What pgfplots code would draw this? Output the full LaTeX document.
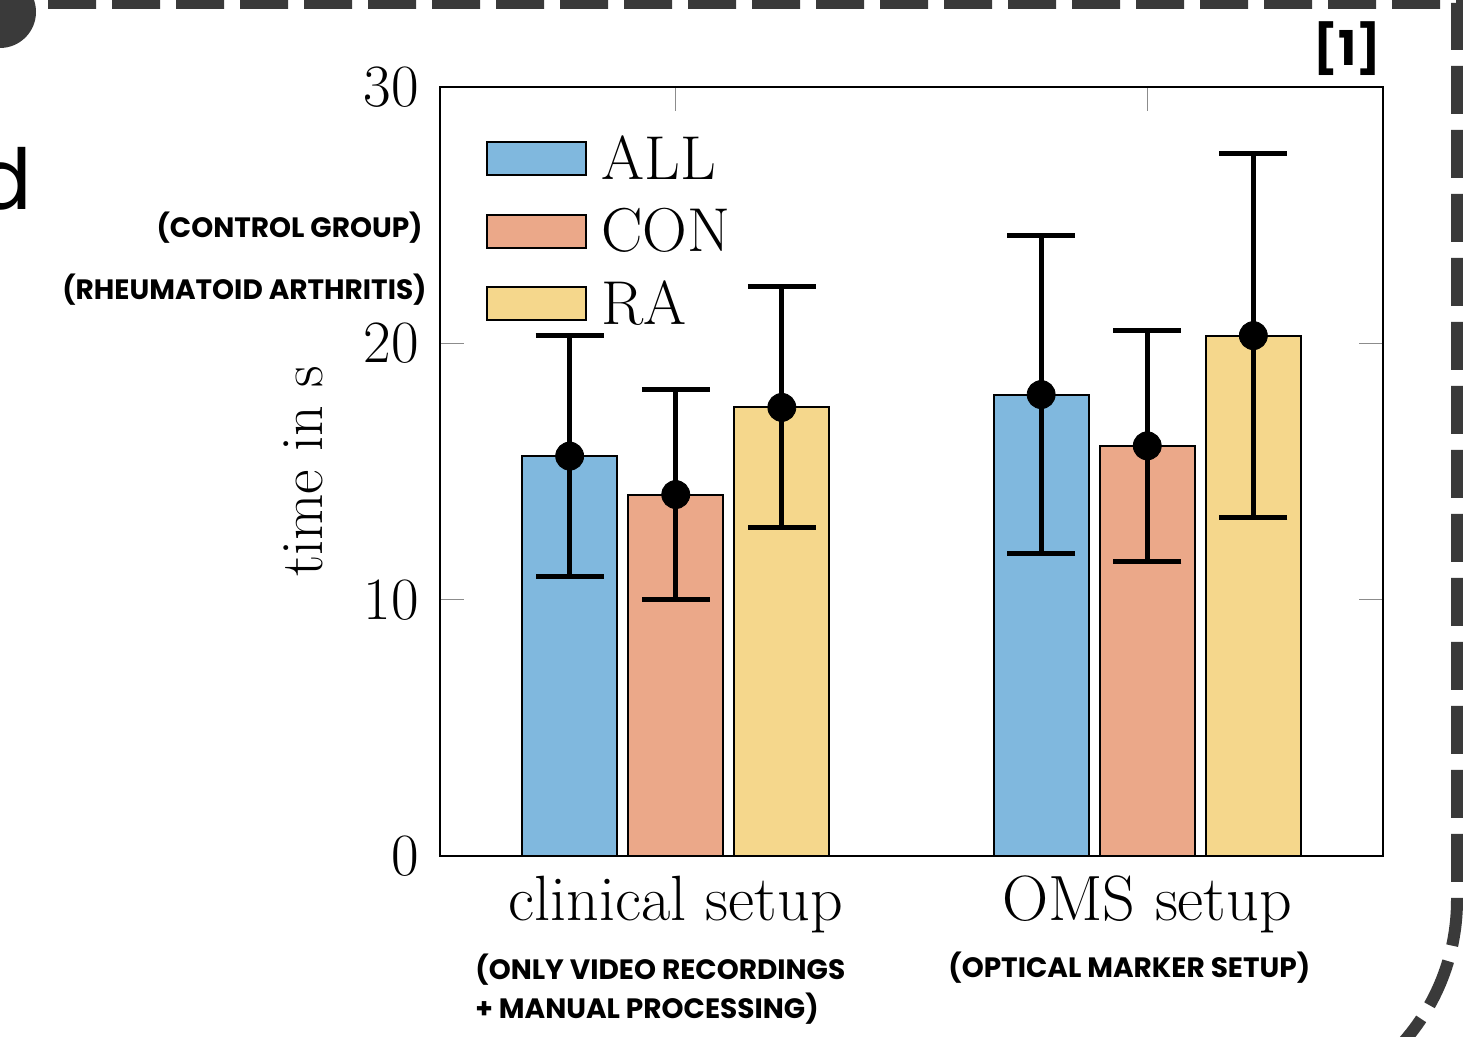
\documentclass[border=0pt]{standalone}
\usepackage{pgfplots}
\pgfplotsset{compat=1.18}
\usepackage{fontspec}
\newfontfamily\pop{Poppins}
\definecolor{cAll}{HTML}{80B8DE}
\definecolor{cCon}{HTML}{EBA889}
\definecolor{cRa}{HTML}{F5D78C}
\definecolor{dashc}{HTML}{3A3A3A}
\begin{document}
\begin{tikzpicture}[x=0.5pt,y=0.5pt]
\useasboundingbox (0,0) rectangle (1463,1037);
\begin{scope}
\clip (0,0) rectangle (1463,1037);
\fill[dashc] (0,1025) circle (36);
\draw[dashc, line width=6pt, dash pattern=on 24pt off 8pt] (48,1034) -- (1457,1034) -- (1457,137) arc[start angle=0,end angle=-90,radius=215];
\node[anchor=base east, inner sep=0pt, font=\pop\fontsize{42}{48}\selectfont] at (33,827) {d};
\end{scope}
\node[anchor=base east, inner sep=0pt, font=\pop\bfseries\fontsize{14}{16}\selectfont] at (423,799) {(CONTROL GROUP)};
\node[anchor=base east, inner sep=0pt, font=\pop\bfseries\fontsize{14}{16}\selectfont] at (427,737) {(RHEUMATOID ARTHRITIS)};
\node[anchor=base west, inner sep=0pt, font=\pop\bfseries\fontsize{14}{16}\selectfont] at (475,57) {(ONLY VIDEO RECORDINGS};
\node[anchor=base west, inner sep=0pt, font=\pop\bfseries\fontsize{14}{16}\selectfont] at (475,18) {+ MANUAL PROCESSING)};
\node[anchor=base west, inner sep=0pt, font=\pop\bfseries\fontsize{14}{16}\selectfont] at (948,59) {(OPTICAL MARKER SETUP)};
\node[anchor=base east, inner sep=0pt, font=\pop\bfseries\fontsize{24}{28}\selectfont] at (1381,971) {[1]};
\begin{axis}[
  at={(220pt,90.5pt)}, anchor=south west,
  scale only axis, width=471.5pt, height=384.5pt,
  xmin=-0.5, xmax=1.5, ymin=0, ymax=30,
  ytick={0,10,20,30}, xtick={0,1},
  xticklabels={clinical setup, OMS setup},
  ybar,
  tick align=inside,
  xtick align=inside,
  ytick align=inside,
  tick style={black!45, line width=0.6pt},
  major tick length=12pt,
  axis line style={line width=1pt},
  /pgf/number format/assume math mode=true,
  yticklabel style={font=\fontsize{30}{34}\selectfont, xshift=-7pt},
  xticklabel style={font=\fontsize{32}{38}\selectfont, yshift=-6.5pt},
  ylabel={time in s},
  ylabel style={font=\fontsize{30}{34}\selectfont, at={(rel axis cs:-0.1453,0.5)}, anchor=center},
  legend image code/.code={\draw[#1, draw=black, line width=1pt] (0pt,-8.25pt) rectangle (49.5pt,8.25pt);},
  legend style={at={(rel axis cs:0,1)}, anchor=north west, xshift=20pt, yshift=-20pt, draw=none, fill=none,
    font=\fontsize{31}{36}\selectfont, row sep=9pt,
    nodes={inner xsep=7pt}},
  legend cell align=left,
]
\addplot[ybar, bar shift=0pt, bar width=0.2017, fill=cAll, draw=black, line width=1pt,
  error bars/.cd, y dir=both, y explicit,
  error bar style={line width=2.5pt, black},
  error mark options={rotate=90, line width=2.5pt, black, mark size=17pt}]
  coordinates {(-0.225,15.6) +- (0,4.7) (0.775,18.0) +- (0,6.2)};
\addlegendentry{ALL}
\addplot[ybar, bar shift=0pt, bar width=0.2017, fill=cCon, draw=black, line width=1pt,
  error bars/.cd, y dir=both, y explicit,
  error bar style={line width=2.5pt, black},
  error mark options={rotate=90, line width=2.5pt, black, mark size=17pt}]
  coordinates {(0,14.1) +- (0,4.1) (1,16.0) +- (0,4.5)};
\addlegendentry{CON}
\addplot[ybar, bar shift=0pt, bar width=0.2017, fill=cRa, draw=black, line width=1pt,
  error bars/.cd, y dir=both, y explicit,
  error bar style={line width=2.5pt, black},
  error mark options={rotate=90, line width=2.5pt, black, mark size=17pt}]
  coordinates {(0.225,17.5) +- (0,4.7) (1.225,20.3) +- (0,7.1)};
\addlegendentry{RA}
\addplot[only marks, mark=*, mark size=7pt, black, forget plot]
  coordinates {(-0.225,15.6) (0.775,18.0) (0,14.1) (1,16.0) (0.225,17.5) (1.225,20.3)};
\end{axis}
\end{tikzpicture}
\end{document}
